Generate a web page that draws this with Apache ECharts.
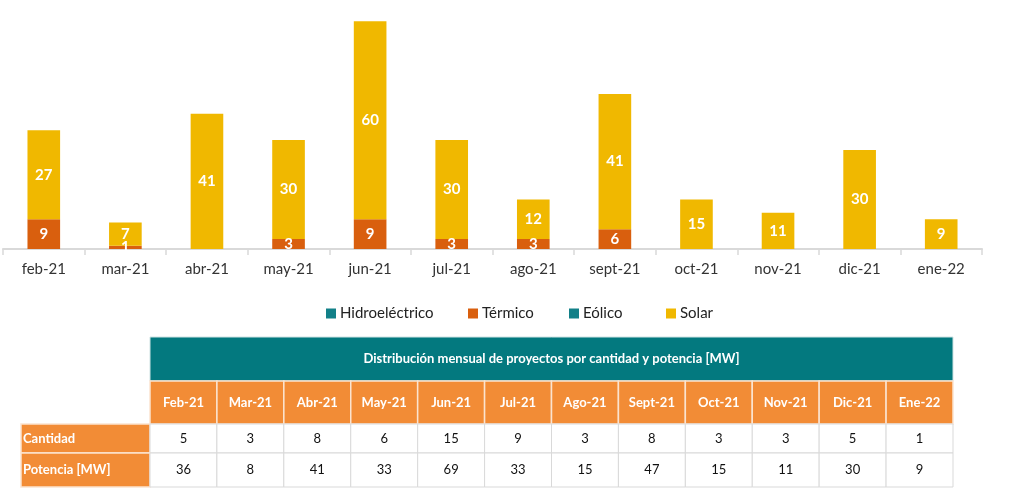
<!DOCTYPE html>
<html>
<head>
<meta charset="utf-8">
<script src="https://cdn.jsdelivr.net/npm/echarts@6/dist/echarts.min.js"></script>
<style>
html,body{margin:0;padding:0;background:#fff;}
#main{width:1010px;height:501px;}
</style>
</head>
<body>
<div id="main"></div>
<script>
const categories = ['feb-21','mar-21','abr-21','may-21','jun-21','jul-21','ago-21','sept-21','oct-21','nov-21','dic-21','ene-22'];
const hidro   = [0,0,0,0,0,0,0,0,0,0,0,0];
const termico = [9,1,0,3,9,3,3,6,0,0,0,0];
const eolico  = [0,0,0,0,0,0,0,0,0,0,0,0];
const solar   = [27,7,41,30,60,30,12,41,15,11,30,9];
const seriesNames = ['Hidroeléctrico','Térmico','Eólico','Solar'];

const tableTitle = 'Distribución mensual de proyectos por cantidad y potencia [MW]';
const tableMonths = ['Feb-21','Mar-21','Abr-21','May-21','Jun-21','Jul-21','Ago-21','Sept-21','Oct-21','Nov-21','Dic-21','Ene-22'];
const rowLabels = ['Cantidad','Potencia [MW]'];
const cantidad = [5,3,8,6,15,9,3,8,3,3,5,1];
const potencia = [36,8,41,33,69,33,15,47,15,11,30,9];

const FONT = 'Lato, "Open Sans", sans-serif';
const TEAL = '#03797F';
const ORANGE = '#F28C36';

const chart = echarts.init(document.getElementById('main'), null, {renderer:'canvas'});

function mkSeries(name, data, color) {
  return {
    name: name, type: 'bar', stack: 'total', data: data, barWidth: '40%',
    itemStyle: {color: color},
    label: {
      show: true, position: 'inside', color: '#fff', fontWeight: 'bold',
      fontSize: 15, fontFamily: FONT,
      formatter: p => (p.value ? p.value : '')
    }
  };
}

// table graphics
const graphics = [];
const tL = 150, tR = 953, labL = 21;
const rows = [337, 381, 424, 453, 487];
const colW = (tR - tL) / tableMonths.length;
graphics.push({type:'rect', shape:{x:tL, y:rows[0], width:tR-tL, height:rows[1]-rows[0]}, style:{fill:TEAL, stroke:'#cfe3e3', lineWidth:1}});
graphics.push({type:'text', x:(tL+tR)/2, y:(rows[0]+rows[1])/2, style:{text:tableTitle, fill:'#fff', font:'bold 13px ' + FONT, align:'center', verticalAlign:'middle'}});
tableMonths.forEach((m, i) => {
  const x = tL + i * colW;
  graphics.push({type:'rect', shape:{x:x, y:rows[1], width:colW, height:rows[2]-rows[1]}, style:{fill:ORANGE, stroke:'#fbe3cf', lineWidth:1.5}});
  graphics.push({type:'text', x:x+colW/2, y:(rows[1]+rows[2])/2, style:{text:m, fill:'#fff', font:'bold 13px ' + FONT, align:'center', verticalAlign:'middle'}});
});
[cantidad, potencia].forEach((arr, r) => {
  const y0 = rows[2+r], y1 = rows[3+r];
  graphics.push({type:'rect', shape:{x:labL, y:y0, width:tL-labL, height:y1-y0}, style:{fill:ORANGE, stroke:'#fbe3cf', lineWidth:1.5}});
  graphics.push({type:'text', x:labL+2, y:(y0+y1)/2, style:{text:rowLabels[r], fill:'#fff', font:'bold 13px ' + FONT, align:'left', verticalAlign:'middle'}});
  arr.forEach((v, i) => {
    const x = tL + i * colW;
    graphics.push({type:'rect', shape:{x:x, y:y0, width:colW, height:y1-y0}, style:{fill:'#fff', stroke:'#d9d9d9', lineWidth:1}});
    graphics.push({type:'text', x:x+colW/2, y:(y0+y1)/2, style:{text:String(v), fill:'#111', font:'13px ' + FONT, align:'center', verticalAlign:'middle'}});
  });
});

const legendLefts = [326, 468, 569, 666];
const legends = seriesNames.map((n, i) => ({
  top: 306, left: legendLefts[i], itemWidth: 10, itemHeight: 10, itemGap: 0,
  icon: 'rect', padding: 0,
  textStyle: {fontFamily: FONT, fontSize: 15, color: '#222', padding:[0,0,0,-1]},
  data: [n]
}));

chart.setOption({
  animation: false,
  backgroundColor: '#fff',
  grid: {left: 3, right: 28, top: 18, bottom: 252, containLabel: false},
  legend: legends,
  xAxis: {
    type: 'category', data: categories,
    axisLine: {lineStyle: {color: '#d9d9d9', width: 2}},
    axisTick: {show: true, length: 6, lineStyle: {color: '#d9d9d9', width: 1.5}},
    axisLabel: {color: '#333', fontSize: 15, fontFamily: FONT, margin: 13}
  },
  yAxis: {type: 'value', min: 0, max: 70, show: false},
  series: [
    mkSeries(seriesNames[0], hidro, '#128088'),
    mkSeries(seriesNames[1], termico, '#D95F0E'),
    mkSeries(seriesNames[2], eolico, '#128088'),
    mkSeries(seriesNames[3], solar, '#F0B800')
  ],
  graphic: graphics
});
</script>
</body>
</html>
